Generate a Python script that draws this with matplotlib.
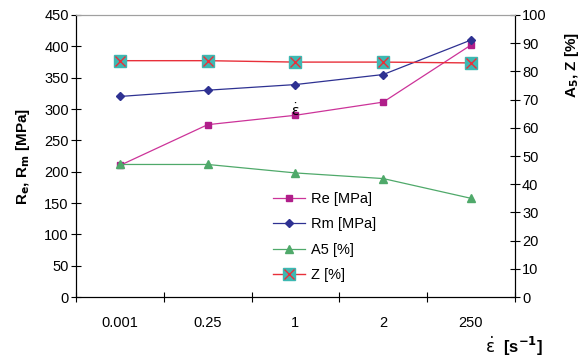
import matplotlib.pyplot as plt
from matplotlib.legend_handler import HandlerTuple

plt.rcParams['font.family'] = ['Liberation Sans', 'DejaVu Sans']

rates = ['0.001', '0.25', '1', '2', '250']
re_mpa = [210, 275, 290, 311, 402]
rm_mpa = [320, 330, 339, 355, 410]
a5_pct = [47, 47, 44, 42, 35]
z_pct = [83.8, 83.8, 83.3, 83.3, 83.0]

pos = [i + 0.5 for i in range(len(rates))]

fig = plt.figure(figsize=(5.85, 3.57), dpi=100)
ax = fig.add_axes([0.13, 0.168, 0.75, 0.79])
ax2 = ax.twinx()

l_re, = ax.plot(pos, re_mpa, color='#CC3399', lw=0.9, marker='s', ms=5,
                mfc='#B01E8A', mec='#B01E8A', label='Re [MPa]')
l_rm, = ax.plot(pos, rm_mpa, color='#2E3192', lw=0.9, marker='D', ms=4.5,
                mfc='#2E3192', mec='#2E3192', label='Rm [MPa]')
l_a5, = ax2.plot(pos, a5_pct, color='#4FA96A', lw=0.9, marker='^', ms=6,
                 mfc='#4FA96A', mec='#4FA96A', label='A5 [%]')
l_z, = ax2.plot(pos, z_pct, color='#E8303A', lw=1.0, marker='s', ms=8.5,
                mfc='#3DB8B2', mec='#3DB8B2', label='Z [%]')
l_zx, = ax2.plot(pos, z_pct, ls='none', marker='x', ms=6.5, mew=1.0,
                 color='#E8303A')

ax.set_xlim(0, 5)
ax.set_ylim(0, 450)
ax2.set_ylim(0, 100)
ax.set_yticks(range(0, 451, 50))
ax2.set_yticks(range(0, 101, 10))

ax.set_xticks(range(0, 6))
ax.set_xticklabels([])
ax.set_xticks(pos, minor=True)
ax.set_xticklabels(rates, minor=True)
ax.tick_params(axis='x', which='minor', length=0, pad=14, labelsize=10.5)
ax.tick_params(axis='x', which='major', direction='inout', length=6.5, width=0.8)
ax.tick_params(axis='y', direction='inout', length=6.5, width=0.8, labelsize=10.5, pad=2)
ax2.tick_params(axis='y', direction='inout', length=6.5, width=0.8, labelsize=10.5, pad=2)

for a in (ax, ax2):
    a.spines['top'].set_color('#A0A0A0')
    for side in ('top', 'left', 'right', 'bottom'):
        a.spines[side].set_linewidth(0.8)

ax.set_ylabel('R$_\\mathbf{e}$, R$_\\mathbf{m}$ [MPa]', fontsize=11, fontweight='bold', labelpad=9)
ax2.set_ylabel('A$_\\mathbf{5}$, Z [%]', fontsize=11, fontweight='bold')
ax2.yaxis.set_label_coords(1.11, 0.823)

fig.text(0.878, 0.03, '$\\dot{\\mathrm{\\varepsilon}}$  [s$^{\\mathbf{-1}}$]', fontsize=12,
         fontweight='bold', ha='center', va='center')
ax.text(2.5, 297, '$\\dot{\\mathrm{\\varepsilon}}$', fontsize=10, ha='center', va='center')

ax.legend([l_re, l_rm, l_a5, (l_z, l_zx)],
          ['Re [MPa]', 'Rm [MPa]', 'A5 [%]', 'Z [%]'],
          handler_map={tuple: HandlerTuple(ndivide=1, pad=0)},
          loc='upper left', bbox_to_anchor=(0.449, 0.372), frameon=False,
          borderpad=0, borderaxespad=0,
          fontsize=10.5, handlelength=2.2, labelspacing=0.78, handletextpad=0.4)

fig.savefig('out.png', dpi=100)
